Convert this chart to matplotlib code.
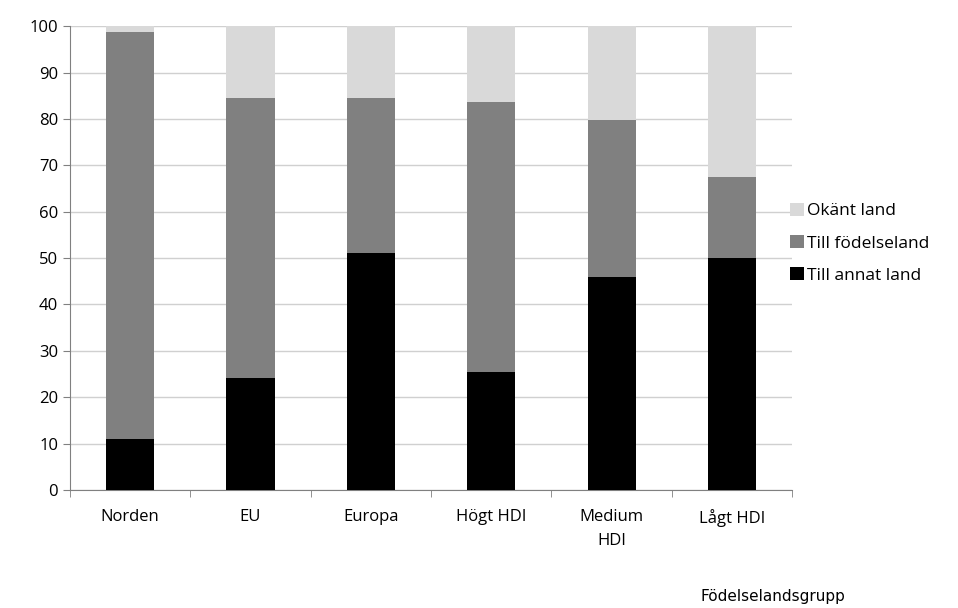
import matplotlib
matplotlib.use("Agg")
import matplotlib.pyplot as plt
import numpy as np

categories = ["Norden", "EU", "Europa", "Högt HDI", "Medium\nHDI", "Lågt HDI"]
annat = [11.0, 24.1, 51.1, 25.4, 45.9, 50.0]
fodelse = [87.7, 60.4, 33.4, 58.3, 33.8, 17.5]
okant = [100 - a - f for a, f in zip(annat, fodelse)]

plt.rcParams['font.family'] = ['Open Sans', 'DejaVu Sans']
fig = plt.figure(figsize=(9.58, 6.08), dpi=100)
ax = fig.add_axes([0.073, 0.194, 0.754, 0.763])
x = np.arange(len(categories))
w = 0.4
ax.bar(x, annat, w, color="#000000", label="Till annat land", zorder=3)
ax.bar(x, fodelse, w, bottom=annat, color="#808080", label="Till födelseland", zorder=3)
ax.bar(x, okant, w, bottom=np.array(annat) + np.array(fodelse), color="#d9d9d9", label="Okänt land", zorder=3)

ax.set_xlim(-0.5, len(categories) - 0.5)
ax.set_ylim(0, 100)
ax.set_yticks(range(0, 101, 10))
ax.yaxis.grid(True, color="#d0d0d0", linewidth=1, zorder=0)
ax.set_xticks(x)
ax.set_xticklabels(categories, fontsize=12, linespacing=1.6)
ax.set_xticks(np.arange(-0.5, len(categories), 1), minor=True)
ax.tick_params(axis='x', which='major', length=0, pad=14)
ax.tick_params(axis='x', which='minor', length=5, color="#808080")
ax.tick_params(axis='y', labelsize=12, length=5, color="#808080")
for s in ["top", "right"]:
    ax.spines[s].set_visible(False)
for s in ["left", "bottom"]:
    ax.spines[s].set_color("#808080")

h, l = ax.get_legend_handles_labels()
fig.legend(h[::-1], l[::-1], loc="center left", bbox_to_anchor=(0.808, 0.6),
           frameon=False, fontsize=12.5, handlelength=0.8, handleheight=0.8,
           handletextpad=0.2, labelspacing=0.9)
fig.text(0.807, 0.012, "Födelselandsgrupp", fontsize=11, ha="center", family="DejaVu Sans")
fig.savefig("out.png", dpi=100)
